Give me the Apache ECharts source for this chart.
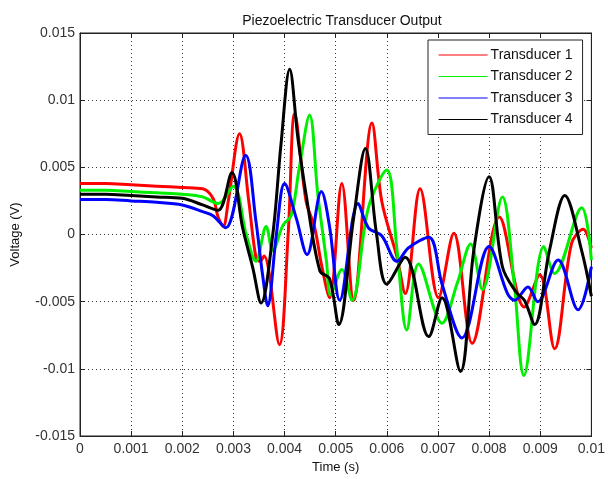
<!DOCTYPE html>
<html>
<head>
<meta charset="utf-8">
<script src="https://cdn.jsdelivr.net/npm/echarts@6/dist/echarts.min.js"></script>
<style>
  html, body { margin: 0; padding: 0; background: #fff; }
  #main { width: 608px; height: 479px; }
</style>
</head>
<body>
<div id="main"></div>
<script>
// values (time in s, voltage in V)
let seriesNames = ['Transducer 1', 'Transducer 2', 'Transducer 3', 'Transducer 4'];
let seriesColors = ['#ff0000', '#00ee00', '#0000ff', '#000000'];

let t1 = [0, 0.0005, 0.001, 0.0015, 0.002, 0.0024, 0.0026, 0.0027, 0.0028, 0.0029, 0.00312, 0.0033, 0.00344, 0.00352, 0.0036, 0.0039, 0.00407, 0.0042, 0.00442, 0.00459, 0.00472, 0.00488, 0.00512, 0.00535, 0.00571, 0.0059, 0.0062, 0.00636, 0.00665, 0.00701, 0.00731, 0.00767, 0.0082, 0.00869, 0.00899, 0.00928, 0.00961, 0.00984, 0.01];
let v1 = [0.0038, 0.0038, 0.0037, 0.0036, 0.0035, 0.0034, 0.0027, 0.0013, 0.0006, 0.0025, 0.0075, 0.0025, -0.0017, -0.002, -0.0016, -0.0082, 0, 0.009, 0.0025, 0.0005, -0.0022, -0.0047, 0.0038, -0.0049, 0.0083, 0.0025, -0.0017, -0.0044, 0.0034, -0.0047, 0.0001, -0.0081, 0.0013, -0.0054, -0.003, -0.0085, -0.0007, 0.0004, -0.001];

let t2 = [0, 0.0005, 0.001, 0.0015, 0.002, 0.0024, 0.0027, 0.003, 0.00325, 0.00344, 0.00364, 0.00377, 0.00397, 0.00413, 0.00429, 0.00449, 0.00465, 0.00482, 0.0049, 0.00512, 0.00532, 0.00564, 0.006, 0.0062, 0.00639, 0.00662, 0.00708, 0.00738, 0.00764, 0.00787, 0.00826, 0.00849, 0.00868, 0.00907, 0.00928, 0.00981, 0.01];
let v2 = [0.0033, 0.0033, 0.0032, 0.0031, 0.003, 0.0028, 0.0023, 0.0036, 0, -0.002, 0.0006, -0.0012, 0.0007, 0.0014, 0.005, 0.0089, 0.003, -0.002, -0.0045, -0.0026, -0.0049, 0.002, 0.0048, -0.0012, -0.0071, -0.0022, -0.0066, -0.0036, -0.0007, -0.0041, 0.0028, -0.0036, -0.0105, -0.0009, -0.0029, 0.002, -0.0019];

let t3 = [0, 0.0005, 0.001, 0.0015, 0.002, 0.0024, 0.0026, 0.00285, 0.00324, 0.00344, 0.00357, 0.00367, 0.00384, 0.004, 0.00423, 0.00444, 0.00472, 0.00488, 0.00508, 0.00544, 0.00564, 0.0059, 0.0062, 0.00642, 0.00682, 0.00708, 0.00747, 0.008, 0.00836, 0.0085, 0.00876, 0.00895, 0.00935, 0.00974, 0.01];
let v3 = [0.0026, 0.0026, 0.0025, 0.0024, 0.0022, 0.0017, 0.0014, 0.0005, 0.0059, 0.001, -0.003, -0.0053, 0, 0.0038, 0.0012, -0.0015, 0.0032, 0.0006, -0.0049, 0.0023, 0.0005, -0.0001, -0.002, -0.001, -0.0002, -0.0037, -0.0077, -0.0009, -0.0044, -0.0049, -0.0039, -0.005, -0.0019, -0.0056, -0.0024];

let t4 = [0, 0.0005, 0.001, 0.0015, 0.002, 0.0024, 0.0027, 0.00297, 0.00318, 0.00338, 0.00354, 0.00377, 0.00393, 0.0041, 0.00426, 0.00442, 0.00469, 0.00488, 0.00506, 0.00535, 0.00558, 0.0058, 0.006, 0.00636, 0.00682, 0.00708, 0.00744, 0.0077, 0.008, 0.00826, 0.00853, 0.00869, 0.00889, 0.00918, 0.00948, 0.00981, 0.01];
let v4 = [0.003, 0.003, 0.0029, 0.0028, 0.0027, 0.0022, 0.0018, 0.0046, 0.0005, -0.0025, -0.0051, 0, 0.0067, 0.0123, 0.0072, 0.003, -0.0027, -0.0033, -0.0067, 0.0012, 0.0064, 0, -0.0037, -0.0017, -0.0076, -0.0047, -0.0102, -0.0012, 0.0043, -0.0024, -0.0043, -0.0049, -0.0067, -0.0012, 0.0029, -0.0012, -0.0046];

let times = [t1, t2, t3, t4];
let values = [v1, v2, v3, v4];

let font = 'Liberation Sans, Arial, sans-serif';
let chart = echarts.init(document.getElementById('main'));

// dotted grid like the original figure
let dotted = { color: '#333', width: 1, type: [1, 3] };
let frame = { onZero: false, show: true, lineStyle: { color: '#222' } };
let tick = { show: true, inside: true, length: 5, lineStyle: { color: '#222' } };

let xBase = { type: 'value', min: 0, max: 0.01, interval: 0.001 };
let yBase = { type: 'value', min: -0.015, max: 0.015, interval: 0.005 };

// empty series first so the legend picks up thin line keys
let keySeries = seriesNames.map(function (name, k) {
  return {
    name: name, type: 'line', symbol: 'none', data: [],
    color: seriesColors[k],
    lineStyle: { width: 1.2, color: seriesColors[k] }
  };
});

let dataSeries = seriesNames.map(function (name, k) {
  return {
    name: name,
    type: 'line',
    showSymbol: false,
    smooth: 0.35,
    color: seriesColors[k],
    lineStyle: { width: 3, color: seriesColors[k] },
    data: times[k].map(function (t, i) { return [t, values[k][i]]; })
  };
});

let option = {
  animation: false,
  backgroundColor: '#fff',
  title: {
    text: 'Piezoelectric Transducer Output',
    left: 337, top: 9, textAlign: 'center',
    textStyle: { fontFamily: font, fontSize: 14, fontWeight: 'normal', color: '#111' }
  },
  grid: { left: 80, right: 14, top: 33, bottom: 43, show: true, borderColor: '#222', borderWidth: 1 },
  legend: {
    data: seriesNames,
    orient: 'vertical',
    left: 428, top: 40,
    padding: [8, 10, 8, 10],
    itemGap: 7.5,
    itemWidth: 49, itemHeight: 14,
    itemStyle: { opacity: 0 },
    lineStyle: { width: 1.2 },
    backgroundColor: '#fff',
    borderColor: '#222', borderWidth: 1,
    textStyle: { fontFamily: font, fontSize: 14, color: '#111', padding: [0, 0, 0, -2] }
  },
  xAxis: [
    Object.assign({}, xBase, {
      position: 'bottom',
      name: 'Time (s)', nameLocation: 'middle', nameGap: 25,
      nameTextStyle: { fontFamily: font, fontSize: 13, color: '#111' },
      axisLine: frame, axisTick: tick,
      axisLabel: { fontFamily: font, fontSize: 14, color: '#333', margin: 6 },
      splitLine: { show: true, lineStyle: dotted }
    }),
    Object.assign({}, xBase, {
      position: 'top',
      axisLine: frame, axisTick: tick,
      axisLabel: { show: false },
      splitLine: { show: false }
    })
  ],
  yAxis: [
    Object.assign({}, yBase, {
      position: 'left',
      name: 'Voltage (V)', nameLocation: 'middle', nameGap: 58,
      nameTextStyle: { fontFamily: font, fontSize: 13, color: '#111' },
      axisLine: frame, axisTick: tick,
      axisLabel: { fontFamily: font, fontSize: 14, color: '#333', margin: 5 },
      splitLine: { show: true, lineStyle: dotted }
    }),
    Object.assign({}, yBase, {
      position: 'right',
      axisLine: frame, axisTick: tick,
      axisLabel: { show: false },
      splitLine: { show: false }
    })
  ],
  series: keySeries.concat(dataSeries)
};

chart.setOption(option);
</script>
</body>
</html>
